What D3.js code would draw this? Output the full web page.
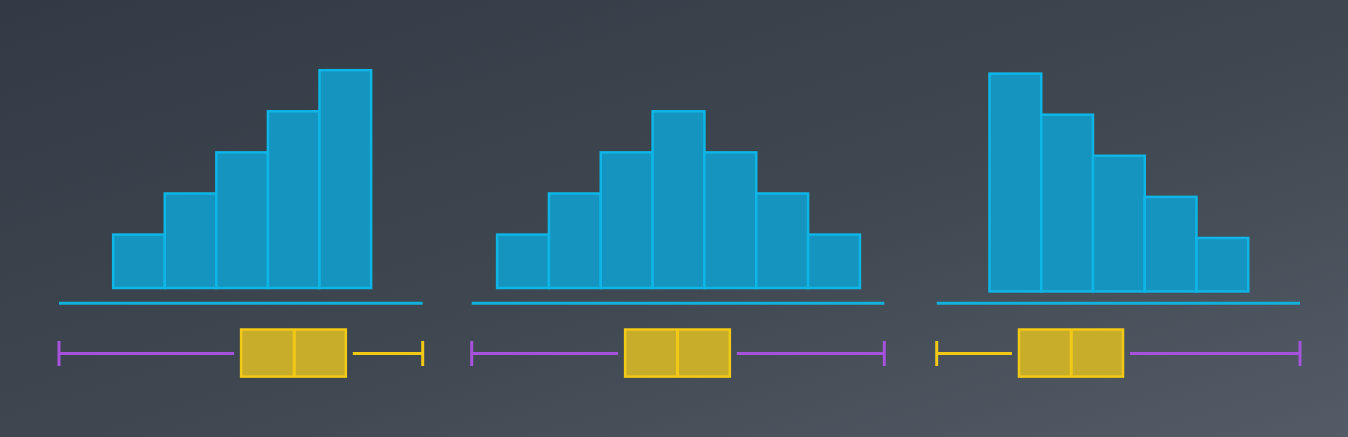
<!DOCTYPE html>
<html>
<head>
<meta charset="utf-8">
<script src="https://cdn.jsdelivr.net/npm/d3@7"></script>
<style>
  html, body { margin: 0; padding: 0; background: #3a434c; }
  svg { display: block; }
</style>
</head>
<body>
<div id="chart"></div>
<script>
// Histogram counts per bin (left skewed, symmetric, right skewed)
const leftSkewCounts = [13, 23, 33, 43, 53];
const symmetricCounts = [13, 23, 33, 43, 33, 23, 13];
const rightSkewCounts = [53, 43, 33, 23, 13];

// x domains (bin units, bins start at 0)
const leftSkewDomain = [-1.05, 6.0];
const symmetricDomain = [-0.49, 7.47];
const rightSkewDomain = [-1.02, 6.0];

// Box plot stats: [min, q1, median, q3, max]
const leftSkewBox = [-1.05, 2.48, 3.51, 4.51, 6.0];
const symmetricBox = [-0.49, 2.47, 3.48, 4.49, 7.47];
const rightSkewBox = [-1.02, 0.57, 1.58, 2.58, 6.0];

const maxCount = 53;

// Layout only (pixels)
const panels = [
  { counts: leftSkewCounts, domain: leftSkewDomain, box: leftSkewBox, x0: 59, x1: 422.7, barBottom: 288 },
  { counts: symmetricCounts, domain: symmetricDomain, box: symmetricBox, x0: 471.7, x1: 884.3, barBottom: 288 },
  { counts: rightSkewCounts, domain: rightSkewDomain, box: rightSkewBox, x0: 936.7, x1: 1300, barBottom: 291.4 }
];

const width = 1348, height = 437;
const maxBarHeight = 217.8;
const baselineY = 303.3;
const boxTop = 329.5, boxBottom = 376.6;
const whiskerY = 353.5;
const capHalf = 12.5;
const gap = 7;

const barFill = "#1494bf";
const barStroke = "#0db6e6";
const boxFill = "#c8ad2b";
const boxStroke = "#f2c914";
const purple = "#a652dc";

const svg = d3.select("#chart")
  .append("svg")
  .attr("width", width)
  .attr("height", height);

// Background gradient
const defs = svg.append("defs");
const grad = defs.append("linearGradient")
  .attr("id", "bg")
  .attr("x1", "0%").attr("y1", "0%")
  .attr("x2", "100%").attr("y2", "100%");
grad.append("stop").attr("offset", "0%").attr("stop-color", "#323b45");
grad.append("stop").attr("offset", "55%").attr("stop-color", "#3f4851");
grad.append("stop").attr("offset", "100%").attr("stop-color", "#535c66");

svg.append("rect")
  .attr("width", width)
  .attr("height", height)
  .attr("fill", "url(#bg)");

panels.forEach((p) => {
  const g = svg.append("g");

  const x = d3.scaleLinear()
    .domain(p.domain)
    .range([p.x0, p.x1]);

  const y = d3.scaleLinear()
    .domain([0, maxCount])
    .range([p.barBottom, p.barBottom - maxBarHeight]);

  // Bars
  g.selectAll("rect.bar")
    .data(p.counts)
    .enter()
    .append("rect")
    .attr("class", "bar")
    .attr("x", (d, i) => x(i))
    .attr("width", (d, i) => x(i + 1) - x(i))
    .attr("y", (d) => y(d))
    .attr("height", (d) => y(0) - y(d))
    .attr("fill", barFill)
    .attr("stroke", barStroke)
    .attr("stroke-width", 2.5);

  // Baseline
  g.append("line")
    .attr("x1", x(p.domain[0]))
    .attr("x2", x(p.domain[1]))
    .attr("y1", baselineY)
    .attr("y2", baselineY)
    .attr("stroke", "#12b0da")
    .attr("stroke-width", 3);

  const [mn, q1, med, q3, mx] = p.box;
  const boxW = x(q3) - x(q1);

  // Whiskers: long ones highlighted purple
  const whiskers = [
    { from: x(mn), to: x(q1) - gap, cap: x(mn) },
    { from: x(q3) + gap, to: x(mx), cap: x(mx) }
  ];
  whiskers.forEach((w) => {
    const color = (w.to - w.from) > boxW ? purple : boxStroke;
    g.append("line")
      .attr("x1", w.from).attr("x2", w.to)
      .attr("y1", whiskerY).attr("y2", whiskerY)
      .attr("stroke", color)
      .attr("stroke-width", 3);
    g.append("line")
      .attr("x1", w.cap).attr("x2", w.cap)
      .attr("y1", whiskerY - capHalf).attr("y2", whiskerY + capHalf)
      .attr("stroke", color)
      .attr("stroke-width", 3);
  });

  // Box
  g.append("rect")
    .attr("x", x(q1))
    .attr("width", boxW)
    .attr("y", boxTop)
    .attr("height", boxBottom - boxTop)
    .attr("fill", boxFill)
    .attr("stroke", boxStroke)
    .attr("stroke-width", 2.5);

  // Median
  g.append("line")
    .attr("x1", x(med)).attr("x2", x(med))
    .attr("y1", boxTop).attr("y2", boxBottom)
    .attr("stroke", boxStroke)
    .attr("stroke-width", 3);
});
</script>
</body>
</html>
